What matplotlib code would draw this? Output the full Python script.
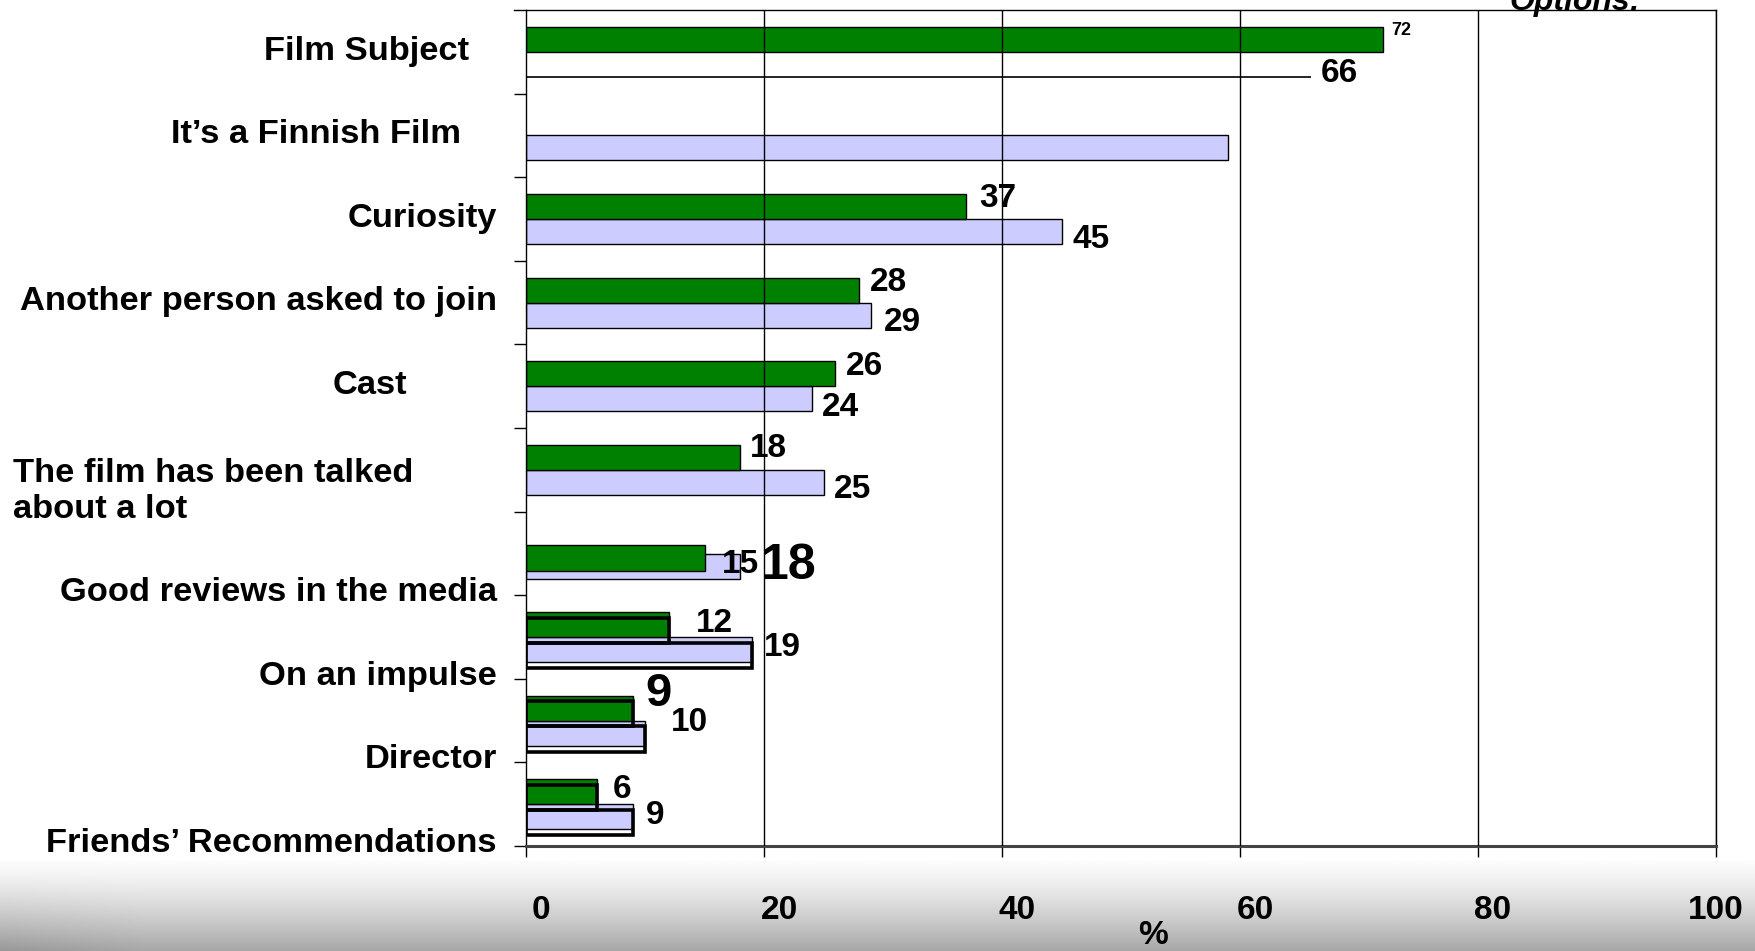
import numpy as np
import matplotlib
matplotlib.use('Agg')
import matplotlib.pyplot as plt
from matplotlib.transforms import blended_transform_factory, ScaledTranslation

plt.rcParams['font.family'] = ['Liberation Sans', 'DejaVu Sans']
plt.rcParams['font.weight'] = 'bold'

categories = ['Film Subject', 'It\u2019s a Finnish Film', 'Curiosity', 'Another person asked to join',
              'Cast', 'The film has been talked\nabout a lot', 'Good reviews in the media',
              'On an impulse', 'Director', 'Friends\u2019 Recommendations']
green_vals = [72, np.nan, 37, 28, 26, 18, 15, 12, 9, 6]
lav_vals = [66, 59, 45, 29, 24, 25, 18, 19, 10, 9]
lav_labeled = [True, False, True, True, True, True, True, True, True, True]
xticks = [0, 20, 40, 60, 80, 100]

GREEN = '#008000'
LAV = '#ccccff'
W, H = 1755, 951

# layout tweaks (band units / data units / points)
label_right = [469, 461, 497, 497, 407, 13, 497, 497, 497, 497]
label_ha = ['right'] * 5 + ['left'] + ['right'] * 4
label_shift = [0.5, 0.49, 0.5, 0.49, 0.49, 0.76, 0.97, 0.97, 0.96, 0.97]
green_pos = [0.35, 0.35, 0.35, 0.35, 0.35, 0.35, 0.555, 0.35, 0.35, 0.35]
lav_pos = [0.65, 0.65, 0.65, 0.65, 0.65, 0.65, 0.655, 0.65, 0.65, 0.65]
lav_face = ['none'] + [LAV] * 9
outlined = [False] * 7 + [True] * 3
g_dx = [0.7, 0, 1.1, 0.9, 0.85, 0.85, 1.5, 2.3, 1.0, 1.3]
g_dy = [0.24, 0, 0.26, 0.26, 0.27, 0.25, 0.63, 0.34, 0.18, 0.33]
g_size = [13, 24, 24, 24, 24, 24, 24, 24, 34, 24]
l_dx = [0.8, 0, 0.9, 1.1, 0.85, 0.9, 1.7, 0.95, 2.2, 1.05]
l_dy = [0.76, 0, 0.74, 0.74, 0.76, 0.73, 0.65, 0.63, 0.52, 0.63]
l_size = [24, 24, 24, 24, 24, 24, 36, 24, 24, 24]

fig = plt.figure(figsize=(W / 100, H / 100), dpi=100)
fig.patch.set_facecolor('white')

# grey shaded strip along the bottom, a touch darker at the far left
bg = fig.add_axes([0, 0, 1, 90 / H], zorder=-1)
gy = np.linspace(0, 1, 200)[:, None] ** 1.3
gx = np.linspace(0, 1, 400)[None, :]
img = 0.985 - 0.33 * gy - 0.06 * gy * np.clip(1 - gx * 12, 0, 1)
bg.imshow(img, cmap='gray', vmin=0, vmax=1, aspect='auto', origin='upper', extent=[0, 1, 0, 1])
bg.axis('off')

ax = fig.add_axes([526 / W, 1 - 846 / H, 1190 / W, 836 / H])
n = len(categories)
idx = np.arange(n)
h = 0.3

ax.barh(idx + np.array(lav_pos), lav_vals, height=h, color=lav_face, edgecolor=[
    'none' if f == 'none' else 'black' for f in lav_face], linewidth=1, zorder=2)
ax.barh(idx + np.array(green_pos), green_vals, height=h, color=GREEN, edgecolor='black', linewidth=1, zorder=2.5)
# first row: unfilled bar shows only its lower edge
ax.hlines(lav_pos[0] + h / 2, 0, lav_vals[0], color='black', linewidth=1.2, zorder=3)

# black outlines slightly offset on the lowest rows
for i in range(n):
    if outlined[i]:
        ax.barh(i + green_pos[i] + 0.07, green_vals[i], height=h, facecolor='none',
                edgecolor='black', linewidth=2.6, zorder=3)
        ax.barh(i + lav_pos[i] + 0.07, lav_vals[i], height=h, facecolor='none',
                edgecolor='black', linewidth=2.6, zorder=3)

for x in xticks[1:]:
    ax.axvline(x, color='black', linewidth=1, zorder=4)

for i in range(n):
    if not np.isnan(green_vals[i]):
        ax.text(green_vals[i] + g_dx[i], i + g_dy[i], f'{green_vals[i]:.0f}', fontsize=g_size[i],
                va='center', ha='left', zorder=5)
    if lav_labeled[i]:
        ax.text(lav_vals[i] + l_dx[i], i + l_dy[i], f'{lav_vals[i]}', fontsize=l_size[i],
                va='center', ha='left', zorder=5)

ax.set_xlim(0, 100)
ax.set_ylim(n, 0)
ax.set_xticks(xticks)
ax.set_xticklabels([str(t) for t in xticks], fontsize=24)
ax.tick_params(axis='x', direction='out', length=8, width=1, pad=27)
# tick labels sit a little right of their gridlines, except the last one
shift = ScaledTranslation(15 / 100, 0, fig.dpi_scale_trans)
for lbl in ax.get_xticklabels()[:-1]:
    lbl.set_transform(lbl.get_transform() + shift)
ax.set_yticks(np.arange(1, n + 1))
ax.set_yticklabels([])
ax.tick_params(axis='y', direction='out', length=9, width=1)
for s in ['top', 'left', 'right']:
    ax.spines[s].set_linewidth(1)
ax.spines['bottom'].set_linewidth(2.2)
ax.spines['bottom'].set_color('#444444')
# top rule runs a little past the left edge
ax.plot([-1, 0], [0, 0], color='black', linewidth=1, clip_on=False)

tr = blended_transform_factory(fig.transFigure, ax.transData)
for i, cat in enumerate(categories):
    ax.text(label_right[i] / W, i + label_shift[i], cat, transform=tr, ha=label_ha[i], va='center',
            fontsize=24.8, linespacing=1.2, clip_on=False)

fig.text(1153 / W, 1 - 935 / H, '%', fontsize=24, ha='center', va='center')
fig.text(1575 / W, 1 - 10 / H, 'Options:', fontsize=23, style='italic', ha='center', va='baseline')

fig.savefig('out.png', dpi=100)
